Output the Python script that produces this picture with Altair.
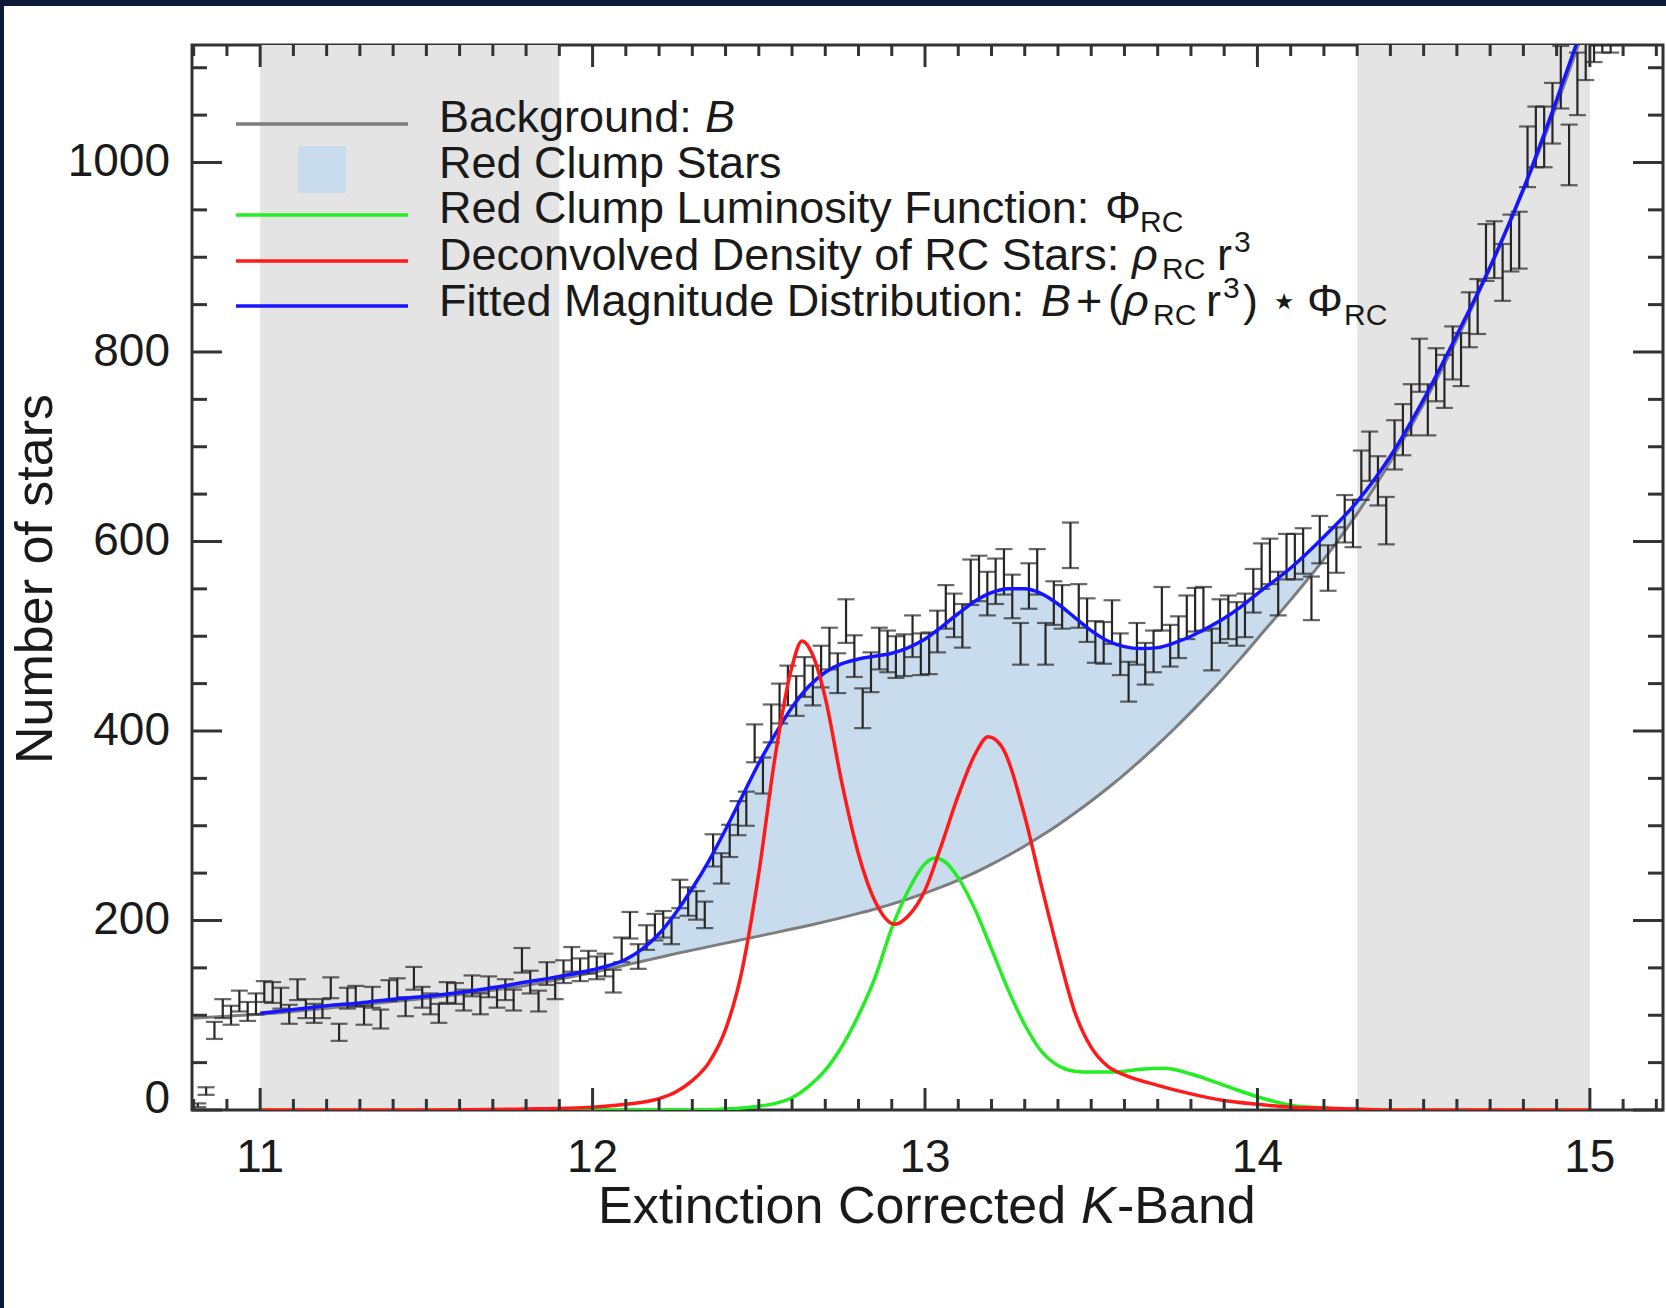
import altair as alt
import pandas as pd

# ---------------- data ----------------
# smooth model curves on a common magnitude grid
k_grid = [10.8, 10.9, 11.0, 11.1, 11.2, 11.3, 11.4, 11.5, 11.6, 11.7, 11.8, 11.9,
          12.0, 12.05, 12.1, 12.15, 12.2, 12.25, 12.3, 12.35, 12.4, 12.45, 12.5, 12.55,
          12.6, 12.65, 12.7, 12.75, 12.8, 12.85, 12.9, 12.95,
          13.0, 13.05, 13.1, 13.15, 13.2, 13.25, 13.3, 13.35, 13.4, 13.45, 13.5, 13.55,
          13.6, 13.65, 13.7, 13.75, 13.8, 13.85, 13.9, 13.95,
          14.0, 14.1, 14.2, 14.3, 14.4, 14.5, 14.6, 14.7, 14.8, 14.9, 15.0]
background = [97, 99, 101, 104, 107.5, 111, 114.5, 118, 122, 126.5, 131.5, 138,
              145, 149, 153, 157, 161, 165, 168.7, 172.4, 176.1, 179.8, 183.5, 187.2,
              191, 194.8, 198.8, 203, 207.5, 212.2, 217.3, 222.8,
              228.8, 235.4, 242.7, 250.6, 259.3, 268.6, 278.7, 289.4, 300.8, 313.1, 326.1, 339.8,
              354.3, 369.6, 385.6, 402.4, 419.9, 438.1, 457.1, 476.9,
              497.4, 538.4, 581.4, 629.4, 684.4, 745.4, 813.4, 888.4, 970.4, 1060.4, 1158.4]
fitted = [None, None, 102, 106, 110, 113, 117, 120, 124, 129, 135, 141,
          148, 152.5, 159, 170, 186, 208, 234, 263, 296, 331, 366, 397,
          425, 447, 462, 471, 476, 479, 482, 488,
          497, 510, 524, 537, 546, 550, 550, 545, 534, 520, 506, 495,
          489, 487, 488, 493, 500, 509, 519, 531,
          545, 572, 605, 642, 690, 750, 818, 890, 972, 1066, 1165]

k_red = [11.0, 11.5, 11.8, 12.0, 12.1, 12.2, 12.25, 12.3, 12.35, 12.4, 12.45, 12.5,
         12.55, 12.6, 12.63, 12.66, 12.7, 12.75, 12.8, 12.85, 12.91, 12.95, 13.0,
         13.05, 13.1, 13.15, 13.19, 13.23, 13.3, 13.35, 13.4, 13.45, 13.5, 13.55,
         13.6, 13.7, 13.8, 13.9, 14.0, 14.1, 14.2, 14.3, 14.4, 14.6, 15.0]
rho_rc = [0, 0, 1, 3, 6, 12, 19, 31, 50, 85, 148, 250,
          375, 468, 495, 482, 435, 345, 270, 220, 196, 205, 232,
          280, 332, 375, 394, 384, 310, 237, 167, 104, 66, 46,
          37, 26, 17, 10, 6, 3, 2, 1, 0, 0, 0]

k_green = [11.0, 12.3, 12.4, 12.5, 12.55, 12.6, 12.65, 12.7, 12.75, 12.8, 12.85, 12.9,
           12.95, 13.0, 13.03, 13.06, 13.1, 13.15, 13.2, 13.25, 13.3, 13.35, 13.4,
           13.45, 13.5, 13.55, 13.6, 13.65, 13.72, 13.8, 13.9, 14.0, 14.1, 14.2, 14.3, 15.0]
phi_rc = [0, 0, 1, 4, 7, 13, 25, 42, 67, 100, 140, 192,
          232, 260, 266, 262, 245, 212, 170, 127, 90, 62, 47,
          41, 40, 40, 41, 43, 44, 38, 26, 14, 5, 2, 0, 0]

# histogram of stars (bins of 0.025 mag starting at 10.8) with Poisson error bars
bin_start = 10.8
bin_width = 0.025
counts = [5, 20,
          84, 107, 100, 115, 104, 112, 125, 124, 118, 101, 127, 107, 102, 107, 129, 82,
          118, 120, 100, 119, 96, 126, 128, 109, 139, 119, 112, 102, 124, 123, 116, 131,
          112, 130, 119, 127, 116, 158, 135, 115, 144, 128, 146,
          159, 148, 156, 150, 153, 136, 169, 195, 162, 182, 193, 196, 189, 228, 220, 216,
          206, 274, 255, 284, 308, 318, 387, 353, 408, 429, 448, 437, 457, 448, 468, 487,
          461, 516, 479, 424, 462, 487,
          484, 478, 480, 500, 481, 482, 505, 531, 522, 511, 557, 561, 545, 558, 568, 542,
          492, 553, 568, 492, 535, 531, 596, 532, 517, 494, 493, 515, 481, 452, 492, 471,
          484, 529, 490, 499, 520, 528, 529, 486, 516, 520, 513,
          522, 548, 574, 579, 545, 584, 584, 590, 540, 602, 572, 591, 624, 619, 670, 690,
          664, 622, 702, 718, 739, 786, 739, 776, 769, 799, 792, 834, 848,
          905, 908, 884, 915, 918, 1006, 1027, 1027, 1052, 1090, 1008, 1083, 1120, 1140,
          1150, 1150, 1165]
errors = [2, 4,
          9, 10, 10, 11, 10, 11, 11, 11, 11, 10, 11, 10, 10, 10, 11, 9,
          11, 11, 10, 11, 10, 11, 11, 10, 12, 11, 11, 10, 11, 11, 11, 11,
          11, 11, 11, 11, 11, 13, 12, 11, 12, 11, 12,
          13, 12, 12, 12, 12, 12, 13, 14, 13, 13, 14, 14, 14, 15, 15, 15,
          14, 17, 16, 17, 18, 18, 20, 19, 20, 21, 21, 21, 21, 21, 22, 22,
          21, 23, 22, 21, 21, 22,
          22, 22, 22, 22, 22, 22, 22, 23, 23, 23, 24, 24, 23, 24, 24, 23,
          22, 24, 24, 22, 23, 23, 24, 23, 23, 22, 22, 23, 22, 21, 22, 22,
          22, 23, 22, 22, 23, 23, 23, 22, 23, 23, 23,
          23, 23, 24, 24, 23, 24, 24, 24, 23, 25, 24, 24, 25, 25, 26, 26,
          26, 25, 26, 27, 27, 28, 27, 28, 28, 28, 28, 29, 29,
          30, 30, 30, 30, 30, 32, 32, 32, 32, 33, 32, 33, 33, 34,
          34, 34, 34]
k_bins = [round(bin_start + bin_width * (i + 0.5), 4) for i in range(len(counts))]

band_lo = [11.0, 14.3]
band_hi = [11.9, 15.0]

x_major = [11, 12, 13, 14, 15]
x_minor = [v for v in [round(10.8 + 0.1 * i, 1) for i in range(45)] if v != int(v)]
y_major = [0, 200, 400, 600, 800, 1000]
y_minor = [v for v in range(50, 1124, 50) if v % 200 != 0]

# ---------------- layout / style ----------------
W, H = 1471, 1065
FONT = "Liberation Sans"
INK = "#1a1a1a"
FRAME = "#333333"

XS = alt.Scale(domain=[10.795, 15.22], nice=False, zero=False)
YS = alt.Scale(domain=[0, 1124], nice=False, zero=False)


def xq(f):
    return alt.X(f, type="quantitative", scale=XS, axis=None)


def yq(f):
    return alt.Y(f, type="quantitative", scale=YS, axis=None)


one = pd.DataFrame({"d": [0]})

curves = pd.DataFrame({"k": k_grid, "B": background, "fit": fitted})
red_df = pd.DataFrame({"k": k_red, "v": rho_rc})
green_df = pd.DataFrame({"k": k_green, "v": phi_rc})
bins_df = pd.DataFrame({"k": k_bins, "n": counts, "e": errors})
bands_df = pd.DataFrame({"a": band_lo, "b": band_hi})

layers = []

# excluded magnitude ranges
layers.append(alt.Chart(bands_df).mark_rect(color="#e4e4e4").encode(
    x=xq("a"), x2="b", y=alt.value(0), y2=alt.value(H)))

# red clump star area between background and fit
layers.append(alt.Chart(curves).transform_filter("isValid(datum.fit)").mark_area(
    color="#c9dcee", interpolate="monotone", clip=True).encode(
    x=xq("k"), y=yq("B"), y2="fit"))

# background line
layers.append(alt.Chart(curves).mark_line(
    color="#7d7d7d", strokeWidth=3, interpolate="monotone", clip=True).encode(
    x=xq("k"), y=yq("B")))

# error bars
eb = alt.Chart(bins_df).transform_calculate(lo="datum.n - datum.e", hi="datum.n + datum.e")
layers.append(eb.mark_rule(color="#262626", strokeWidth=2.2, clip=True).encode(
    x=xq("k"), y=yq("lo"), y2="hi"))
layers.append(eb.mark_tick(orient="horizontal", size=17, thickness=2.2,
                           color="#262626", clip=True).encode(x=xq("k"), y=yq("lo")))
layers.append(eb.mark_tick(orient="horizontal", size=17, thickness=2.2,
                           color="#262626", clip=True).encode(x=xq("k"), y=yq("hi")))

# fitted distribution
layers.append(alt.Chart(curves).transform_filter("isValid(datum.fit)").mark_line(
    color="#1515ff", strokeWidth=3.5, interpolate="monotone", clip=True).encode(
    x=xq("k"), y=yq("fit")))

# luminosity function and deconvolved density
layers.append(alt.Chart(green_df).mark_line(
    color="#22ee22", strokeWidth=3.5, interpolate="monotone", clip=True).encode(
    x=xq("k"), y=yq("v")))
layers.append(alt.Chart(red_df).mark_line(
    color="#ff1a1a", strokeWidth=3.5, interpolate="monotone", clip=True).encode(
    x=xq("k"), y=yq("v")))

# inward ticks on all four sides
def tick_layer(vals, horizontal, p0, p1):
    df = pd.DataFrame({"v": vals})
    if horizontal:
        return alt.Chart(df).mark_rule(color=FRAME, strokeWidth=3).encode(
            x=xq("v"), y=alt.value(p0), y2=alt.value(p1))
    return alt.Chart(df).mark_rule(color=FRAME, strokeWidth=3).encode(
        y=yq("v"), x=alt.value(p0), x2=alt.value(p1))


layers += [
    tick_layer(x_major, True, H, H - 22), tick_layer(x_minor, True, H, H - 11),
    tick_layer(x_major, True, 0, 22), tick_layer(x_minor, True, 0, 11),
    tick_layer(y_major, False, 0, 30), tick_layer(y_minor, False, 0, 15),
    tick_layer(y_major, False, W, W - 30), tick_layer(y_minor, False, W, W - 15),
]

# tick labels
layers.append(alt.Chart(pd.DataFrame({"v": x_major})).mark_text(
    font=FONT, fontSize=46, color=INK, align="center", baseline="alphabetic").encode(
    x=xq("v"), y=alt.value(1127), text=alt.Text("v:Q", format="d")))
layers.append(alt.Chart(pd.DataFrame({"v": [v for v in y_major if v > 0]})).mark_text(
    font=FONT, fontSize=46, color=INK, align="right", baseline="alphabetic", dy=14).encode(
    x=alt.value(-22), y=yq("v"), text=alt.Text("v:Q", format="d")))
layers.append(alt.Chart(pd.DataFrame({"v": [0]})).mark_text(
    font=FONT, fontSize=46, color=INK, align="right", baseline="alphabetic", dy=3).encode(
    x=alt.value(-22), y=yq("v"), text=alt.Text("v:Q", format="d")))


def label(text, px, py, size=45, style="normal", angle=0, align="left"):
    return alt.Chart(one).mark_text(
        text=text, font=FONT, fontSize=size, fontStyle=style, color=INK,
        align=align, baseline="alphabetic", angle=angle).encode(
        x=alt.value(px), y=alt.value(py))


# axis titles
layers += [
    label("Extinction Corrected", 406, 1178, size=52),
    label("K", 889, 1178, size=52, style="italic"),
    label("-Band", 925, 1178, size=52),
    label("Number of stars", -140, 534, size=52, angle=270, align="center"),
]

# legend samples
def sample(color, py):
    return alt.Chart(one).mark_rule(color=color, strokeWidth=3.5).encode(
        x=alt.value(44), x2=alt.value(216), y=alt.value(py))


layers += [
    sample("#7d7d7d", 79),
    alt.Chart(one).mark_rect(color="#c9dcee").encode(
        x=alt.value(106), x2=alt.value(154), y=alt.value(101), y2=alt.value(148)),
    sample("#22ee22", 170),
    sample("#ff1a1a", 216),
    sample("#1515ff", 261),
]

# legend text
r1, r2, r3, r4, r5 = 87, 133, 178, 225, 271
layers += [
    label("Background:", 247, r1), label("B", 513, r1, style="italic"),
    label("Red Clump Stars", 247, r2),
    label("Red Clump Luminosity Function:", 247, r3),
    label("\u03a6", 913, r3), label("RC", 948, r3 + 9, size=30),
    label("Deconvolved Density of RC Stars:", 247, r4),
    label("\u03c1", 940, r4, style="italic"), label("RC", 970, r4 + 9, size=30),
    label("r", 1025, r4), label("3", 1042, r4 - 18, size=30),
    label("Fitted Magnitude Distribution:", 247, r5),
    label("B", 849, r5, style="italic"), label("+", 884, r5), label("(", 916, r5),
    label("\u03c1", 931, r5, style="italic"), label("RC", 961, r5 + 9, size=30),
    label("r", 1014, r5), label("3", 1031, r5 - 18, size=30), label(")", 1051, r5),
    label("\u22c6", 1078, r5), label("\u03a6", 1115, r5), label("RC", 1152, r5 + 9, size=30),
]

# dark page border (top and left strips)
layers += [
    alt.Chart(one).mark_rect(color="#0c1b36").encode(
        x=alt.value(-192), x2=alt.value(W + 3), y=alt.value(-45), y2=alt.value(-39)),
    alt.Chart(one).mark_rect(color="#0c1b36").encode(
        x=alt.value(-192), x2=alt.value(-188), y=alt.value(-45), y2=alt.value(H + 198)),
]

chart = alt.layer(*layers).properties(
    width=W, height=H,
    autosize=alt.AutoSizeParams(type="none"),
    padding={"left": 192, "top": 45, "right": 3, "bottom": 198},
    background="white",
).configure_view(stroke=FRAME, strokeWidth=3, fill="white")

chart.save("out.html", embed_options={"renderer": "svg", "actions": False})
